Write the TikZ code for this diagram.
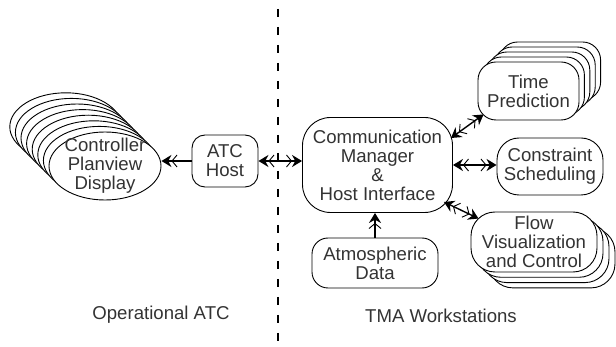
\documentclass[tikz,border=0pt]{standalone}
\usepackage{fontspec}
\setmainfont{Liberation Sans}
\usetikzlibrary{arrows.meta,shapes.geometric}
\begin{document}
\begin{tikzpicture}[x=1pt,y=-1pt,
  lbl/.style={font=\fontsize{18.6}{19}\selectfont, text=black!80, align=center, inner sep=0pt},
  shapebox/.style={draw, line width=0.9pt, fill=white, inner sep=0pt},
  box/.style={shapebox, lbl},
  twoway/.style={line width=1.4pt,
    {Stealth[length=10pt,width=12pt] Straight Barb[length=5pt,width=12pt,line width=0.9pt]}-{Straight Barb[length=5pt,width=12pt,line width=0.9pt] Stealth[length=10pt,width=12pt]}},
  oneway/.style={line width=1.4pt,
    -{Straight Barb[length=5pt,width=12pt,line width=0.9pt] Stealth[length=10pt,width=12pt]}},
  divider/.style={line width=1.3pt, dash pattern=on 8pt off 10pt}
]
\useasboundingbox (0,0) rectangle (616,347);

% divider between the two sites
\draw[divider] (278,9) -- (278,347);

% Controller Planview Display (stacked ellipses)
\foreach \i in {7,...,1}
  \node[shapebox, ellipse, minimum width=112pt, minimum height=68pt]
    (cp\i) at ({105-5.6*\i},{166-5.6*\i}) {};
\node[shapebox, ellipse, minimum width=112pt, minimum height=68pt] (cp) at (105,166) {};
\node[lbl] (cptext) at (cp) {Controller\\Planview\\Display};

% ATC Host
\node[box, minimum width=66pt, minimum height=52pt, rounded corners=13pt]
  (ah) at (225,161) {ATC\\Host};

% Communication Manager & Host Interface
\node[box, minimum width=150pt, minimum height=95pt, rounded corners=28pt]
  (cm) at (377.5,165) {Communication\\Manager\\\&\\Host Interface};

% Time Prediction (stack)
\foreach \i in {4,...,1}
  \node[shapebox, minimum width=101pt, minimum height=58pt, rounded corners=18pt]
    (tp\i) at ({528.5+5.4*\i},{91-5*\i}) {};
\node[box, minimum width=101pt, minimum height=58pt, rounded corners=18pt]
  (tp) at (528.5,91) {Time\\Prediction};

% Constraint Scheduling
\node[box, minimum width=106pt, minimum height=57pt, rounded corners=22pt]
  (cs) at (550,166.5) {Constraint\\Scheduling};

% Flow Visualization and Control (stack)
\foreach \i in {3,...,1}
  \node[shapebox, minimum width=126pt, minimum height=60pt, rounded corners=24pt]
    (fv\i) at ({534+6*\i},{242+5.3*\i}) {};
\node[box, minimum width=126pt, minimum height=60pt, rounded corners=24pt]
  (fv) at (534,242) {Flow\\Visualization\\and Control};

% Atmospheric Data
\node[box, minimum width=126pt, minimum height=50pt, rounded corners=16pt]
  (ad) at (375,263) {Atmospheric\\Data};

% site labels
\node[lbl] (opatc) at (161,315) {Operational ATC};
\node[lbl] (tma) at (441,316) {TMA Workstations};

% connectors
\draw[oneway] (ah.west) -- (ah.west -| cp.east);
\draw[twoway] (ah.east) -- (ah.east -| cm.west);
\draw[twoway] ([shift={(-2,-27)}]cm.east) -- ([shift={(6,-6)}]tp.south west);
\draw[twoway] (cm.east) -- (cm.east -| cs.west);
\draw[twoway] ([shift={(-9,-11)}]cm.south east) -- ([shift={(8,7)}]fv.north west);
\draw[oneway] (ad.north) -- (ad.north |- cm.south);
\end{tikzpicture}
\end{document}
